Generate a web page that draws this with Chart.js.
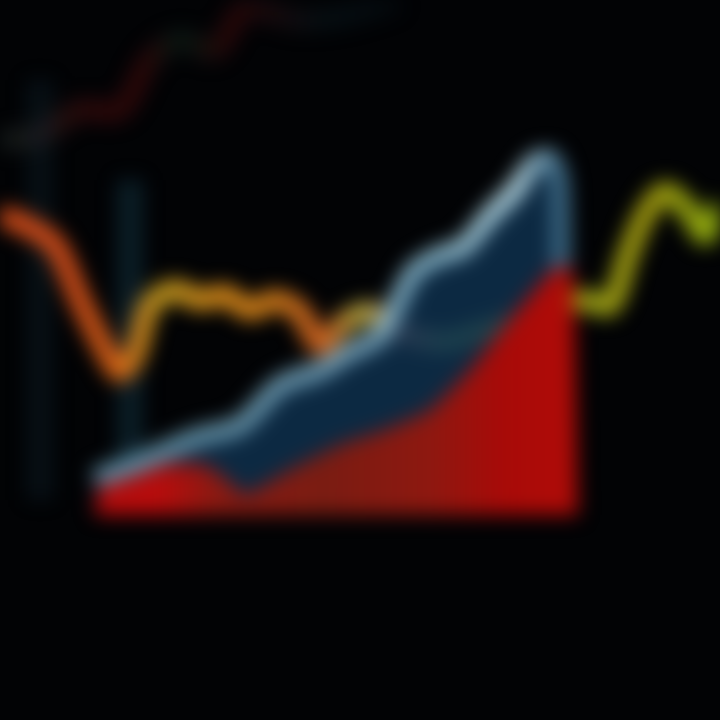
<!DOCTYPE html>
<html>
<head>
<meta charset="utf-8">
<script src="https://cdn.jsdelivr.net/npm/chart.js@4.4.1/dist/chart.umd.min.js"></script>
<style>
  html,body{margin:0;padding:0;background:#020305;}
  #wrap{width:720px;height:720px;overflow:hidden;background:#020305;}
  canvas{display:block;filter:blur(10px);}
</style>
</head>
<body>
<div id="wrap"><canvas id="c" width="720" height="720"></canvas></div>
<script>
// Data (x: time index, y: value)
const orangeX = [0,2.5,5.5,8,10.5,12,13.5,15,17.5,20,22.5,25,27.5,30,32,34.5,37,39.5,42,44.5,48,52,56,58.5,61,62.8,64.5,66.5,68.8,70.5,72];
const orangeY = [50.5,49.5,47.5,42,37,34.8,36.5,41.5,43,42,42.5,41,42,40.8,37.5,39.8,40.8,39,38.2,37.8,38.8,40,41.5,42,41.5,46.5,50.5,52.8,51,48.5,51.5];

const blueX = [9.5,14,19.7,24,28,32,34.7,38,41.3,44,46.3,49,51.5,53.5,55,56,56.2];
const blueY = [24.2,25.8,28.3,29.5,33.5,35,36.7,38.5,44.8,46.5,47.3,50.5,53,55.8,56.2,54,45];

const redX = [9.5,10,13,16.5,20.5,22.8,24.5,29,34,38.5,43,47,51,55.3,57.2,57.8];
const redY = [20.5,23.2,24.2,25.5,25.5,24,22.5,25,27.5,29,31,35,40,45,45.2,20.5];

const faintX = [0,4,8,12,15,18,21.5,24.5,30,35,40];
const faintY = [58,58.5,61,61,66,68,67,71,70,70.5,72];

const columnA = {x:[4,4], y:[22,64]};
const columnB = {x:[13,13], y:[25,54]};

const BASE = 20.5;

const pts = (xs, ys) => xs.map((x,i)=>({x, y: ys[i]}));

function hGrad(chart, stops){
  const a = chart.chartArea;
  if(!a) return stops[0][1];
  const g = chart.ctx.createLinearGradient(a.left,0,a.right,0);
  stops.forEach(s=>g.addColorStop(s[0], s[1]));
  return g;
}

new Chart(document.getElementById('c'), {
  type: 'line',
  data: {
    datasets: [
      {
        label:'faint',
        data: pts(faintX, faintY),
        borderWidth: 22,
        borderColor: c => hGrad(c.chart, [[0,'rgba(60,90,80,0.28)'],[0.12,'rgba(120,20,20,0.35)'],[0.2,'rgba(120,15,15,0.35)'],[0.25,'rgba(20,70,50,0.3)'],[0.32,'rgba(130,15,15,0.3)'],[0.45,'rgba(20,50,60,0.25)'],[0.6,'rgba(10,30,40,0.2)']]),
        fill:false, pointRadius:0, tension:0.3, order:9
      },
      {
        label:'colA',
        data: pts(columnA.x, columnA.y),
        borderWidth: 26, borderColor:'rgba(20,45,60,0.3)',
        fill:false, pointRadius:0, order:8
      },
      {
        label:'colB',
        data: pts(columnB.x, columnB.y),
        borderWidth: 26, borderColor:'rgba(25,70,90,0.4)',
        fill:false, pointRadius:0, order:8
      },
      {
        label:'orange',
        data: pts(orangeX, orangeY),
        borderWidth: 20,
        borderColor: c => hGrad(c.chart, [[0,'#e0501a'],[0.1,'#d9501a'],[0.16,'#e06515'],[0.22,'#c8a020'],[0.3,'#e0901a'],[0.38,'#d8801a'],[0.45,'#d06020'],[0.5,'#b8b040'],[0.56,'#c07070'],[0.62,'#70a050'],[0.8,'#a0a818'],[0.9,'#a8a010'],[1,'#90b010']]),
        fill:false, pointRadius:0, tension:0.3, order:7
      },
      {
        label:'blue',
        data: pts(blueX, blueY),
        borderWidth: 17,
        borderColor: c => hGrad(c.chart, [[0,'#5a8fa8'],[0.3,'#6a9ab0'],[0.5,'#7aa8c0'],[0.6,'#88b8cc'],[0.72,'#c0e4f0'],[0.78,'#3a6a88']]),
        backgroundColor:'rgba(14,48,78,0.85)',
        fill:{value:BASE}, pointRadius:0, tension:0.25, order:6
      },
      {
        label:'red',
        data: pts(redX, redY),
        borderWidth: 0,
        borderColor:'rgba(0,0,0,0)',
        backgroundColor: c => hGrad(c.chart, [[0,'#b00c0c'],[0.22,'#b80c0c'],[0.3,'#8a1a12'],[0.45,'#7a1c12'],[0.6,'#8e1810'],[0.7,'#a80a08'],[0.8,'#b00c08'],[1,'#b00c08']]),
        fill:{value:BASE}, pointRadius:0, tension:0.15, order:5
      }
    ]
  },
  options: {
    responsive:false,
    animation:false,
    devicePixelRatio:1,
    layout:{padding:0},
    plugins:{legend:{display:false}, tooltip:{enabled:false}},
    scales:{
      x:{type:'linear', min:0, max:72, display:false},
      y:{type:'linear', min:0, max:72, display:false}
    }
  }
});
</script>
</body>
</html>
